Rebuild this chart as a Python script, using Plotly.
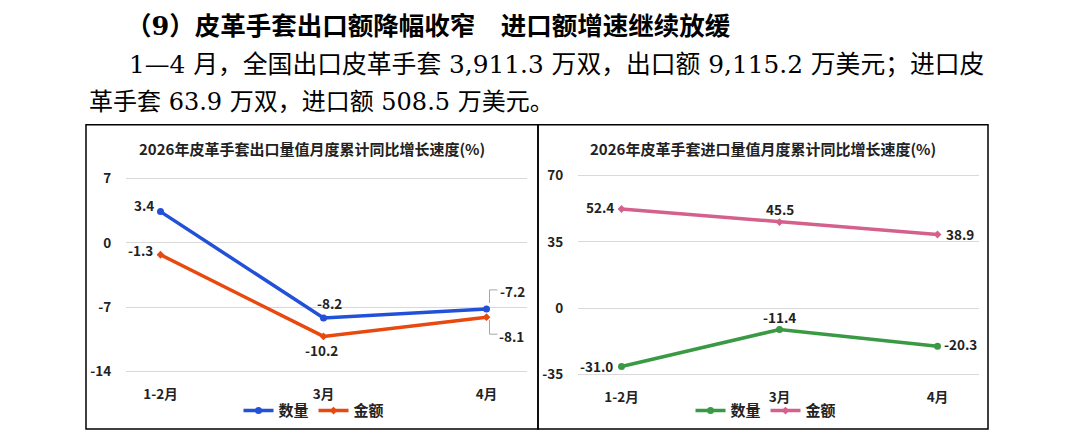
"""2026年皮革手套进出口量值月度累计同比增长速度"""
import plotly.graph_objects as go

W, H = 1084, 439

categories = ["1-2月", "3月", "4月"]
export_qty = [3.4, -8.2, -7.2]
export_val = [-1.3, -10.2, -8.1]
import_qty = [-31.0, -11.4, -20.3]
import_val = [52.4, 45.5, 38.9]
series_names = ["数量", "金额"]
left_ticks = [-14, -7, 0, 7]
right_ticks = [-35, 0, 35, 70]

heading = "（9）皮革手套出口额降幅收窄　进口额增速继续放缓"
para_1 = "1—4 月，全国出口皮革手套 3,911.3 万双，出口额 9,115.2 万美元；进口皮"
para_2 = "革手套 63.9 万双，进口额 508.5 万美元。"
title_left = "2026年皮革手套出口量值月度累计同比增长速度(%)"
title_right = "2026年皮革手套进口量值月度累计同比增长速度(%)"

CHART_FONT = "Noto Sans CJK SC, sans-serif"
TEXT_FONT = "DejaVu Serif, Noto Sans CJK SC, serif"


def px_x(p):
    return p / W


def px_y(p):
    return 1 - p / H


fig = go.Figure()

# ---- traces
specs = [
    (export_qty, series_names[0], "#2350D8", "circle", 7, "x", "y", "legend"),
    (export_val, series_names[1], "#E8490F", "diamond", 6, "x", "y", "legend"),
    (import_qty, series_names[0], "#3A9A44", "circle", 7, "x2", "y2", "legend2"),
    (import_val, series_names[1], "#D4618C", "diamond", 6, "x2", "y2", "legend2"),
]
for vals, name, color, symbol, msize, xa, ya, leg in specs:
    fig.add_trace(go.Scatter(
        x=categories, y=vals, name=f"<b>{name}</b>", mode="lines+markers",
        line={"color": color, "width": 3.5},
        marker={"symbol": symbol, "size": msize, "color": color},
        xaxis=xa, yaxis=ya, legend=leg, hoverinfo="skip"))

# ---- data labels (offsets in pixels)
label_shifts = [
    (export_qty, "x", "y", [(-17, 7), (6, 15), (26, 18)]),
    (export_val, "x", "y", [(-20, 5), (-2, -14), (25, -19)]),
    (import_qty, "x2", "y2", [(-25, 1), (0, 13), (23, 2)]),
    (import_val, "x2", "y2", [(-22, 2), (0, 13), (22, 1)]),
]
for vals, xa, ya, shifts in label_shifts:
    for cat, v, (sx, sy) in zip(categories, vals, shifts):
        fig.add_annotation(
            x=cat, y=v, xref=xa, yref=ya, text=f"<b>{v:.1f}</b>",
            showarrow=False, xshift=sx, yshift=sy,
            font={"family": CHART_FONT, "size": 13.5, "color": "#222222"})

# leader lines for the two labels at 4月 in the left chart
for v, path in [(export_qty[2], "M 3,6 L 3,19 L 11,19"),
                (export_val[2], "M 3,-3 L 3,-17 L 11,-17")]:
    fig.add_shape(type="path", xref="x", yref="y",
                  xsizemode="pixel", ysizemode="pixel",
                  xanchor=categories[2], yanchor=v, path=path,
                  line={"color": "#A6A6A6", "width": 1})

# ---- boxes
for x0, x1 in [(86, 538), (538, 988)]:
    fig.add_shape(type="rect", xref="paper", yref="paper",
                  x0=px_x(x0), x1=px_x(x1), y0=px_y(436), y1=px_y(120),
                  line={"color": "#000000", "width": 1.5})

# ---- texts
fig.add_annotation(xref="paper", yref="paper", x=px_x(124), y=px_y(18),
                   xanchor="left", yanchor="middle", showarrow=False,
                   text=f"<b>{heading}</b>",
                   font={"family": TEXT_FONT, "size": 25.5, "color": "#000000"})
fig.add_annotation(xref="paper", yref="paper", x=px_x(127), y=px_y(58),
                   xanchor="left", yanchor="middle", showarrow=False,
                   text=para_1,
                   font={"family": TEXT_FONT, "size": 24.8, "color": "#000000"})
fig.add_annotation(xref="paper", yref="paper", x=px_x(87), y=px_y(97),
                   xanchor="left", yanchor="middle", showarrow=False,
                   text=para_2,
                   font={"family": TEXT_FONT, "size": 24, "color": "#000000"})
for cx, t in [(312, title_left), (763, title_right)]:
    fig.add_annotation(xref="paper", yref="paper", x=px_x(cx), y=px_y(145),
                       xanchor="center", yanchor="middle", showarrow=False,
                       text=f"<b>{t}</b>",
                       font={"family": CHART_FONT, "size": 15, "color": "#222222"})

# ---- axes
tick_font = {"family": CHART_FONT, "size": 13.5, "color": "#222222"}
xcommon = dict(type="category", showgrid=False, showline=False, zeroline=False,
               ticks="outside", ticklen=9, tickcolor="rgba(0,0,0,0)",
               tickfont=tick_font, tickprefix="<b>", ticksuffix="</b>")
ycommon = dict(showgrid=True, gridcolor="#D9D9D9", gridwidth=1,
               zeroline=True, zerolinecolor="#D9D9D9", zerolinewidth=1,
               showline=False, ticks="outside", ticklen=11,
               tickcolor="rgba(0,0,0,0)", tickfont=tick_font)
legend_font = {"family": CHART_FONT, "size": 15, "color": "#222222"}

# small padding so the end grid lines are still drawn
pad_l = 0.01 * (left_ticks[-1] - left_ticks[0])
pad_r = 0.01 * (right_ticks[-1] - right_ticks[0])

fig.update_layout(
    width=W, height=H, autosize=False,
    margin={"l": 0, "r": 0, "t": 0, "b": 0},
    paper_bgcolor="white", plot_bgcolor="white",
    xaxis=dict(xcommon, domain=[px_x(126), px_x(527)], anchor="y"),
    yaxis=dict(ycommon, domain=[px_y(378), px_y(174)], anchor="x",
               range=[left_ticks[0] - pad_l, left_ticks[-1] + pad_l],
               tickvals=left_ticks,
               ticktext=[f"<b>{v}</b>" for v in left_ticks]),
    xaxis2=dict(xcommon, domain=[px_x(578), px_x(979)], anchor="y2"),
    yaxis2=dict(ycommon, domain=[px_y(381), px_y(171)], anchor="x2",
                range=[right_ticks[0] - pad_r, right_ticks[-1] + pad_r],
                tickvals=right_ticks,
                ticktext=[f"<b>{v}</b>" for v in right_ticks]),
    legend={"orientation": "h", "x": px_x(314), "y": px_y(417),
            "xanchor": "center", "yanchor": "middle",
            "font": legend_font, "bgcolor": "rgba(0,0,0,0)"},
    legend2={"orientation": "h", "x": px_x(766), "y": px_y(417),
             "xanchor": "center", "yanchor": "middle",
             "font": legend_font, "bgcolor": "rgba(0,0,0,0)"},
)

# the page body has a default 8px margin; drop it so the figure sits at 0,0
fig.write_html("out.html", config={"displayModeBar": False},
               post_script="document.body.style.margin='0';")
